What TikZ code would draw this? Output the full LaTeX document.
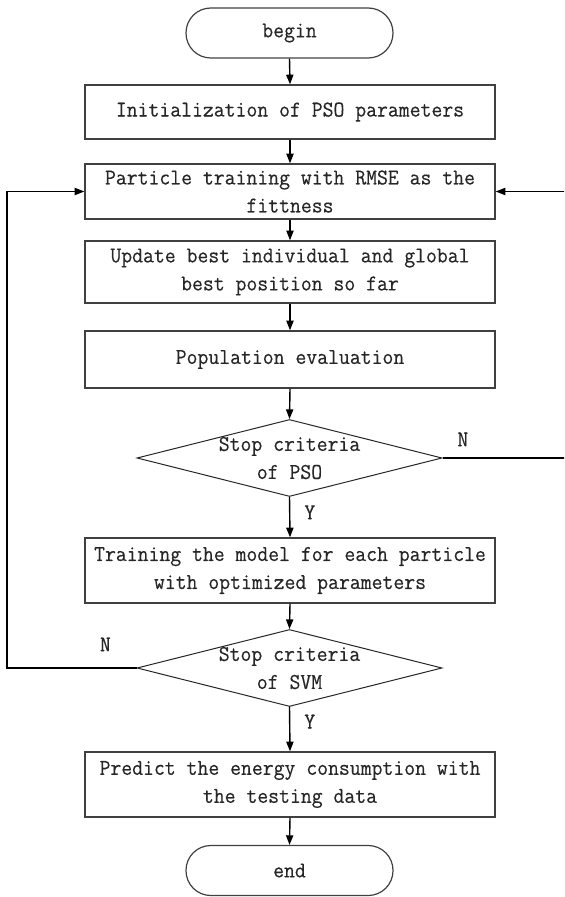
\documentclass[tikz,border=0pt]{standalone}
\usepackage{fontspec}
\usetikzlibrary{arrows.meta,shapes.geometric}
% slightly condensed, slightly heavier typewriter face for the step texts
\newfontfamily\flowfont{Latin Modern Mono}[FakeStretch=0.935,FakeBold=0.35]
\begin{document}
\begin{tikzpicture}[x=0.5pt,y=-0.5pt,
  every node/.style={font=\flowfont\fontsize{11.3}{14}\selectfont, text=black!85},
  procbox/.style={draw=black!75, line width=0.7pt, minimum width=205pt, align=center, inner sep=0pt},
  terminal/.style={draw=black!75, line width=0.6pt, rounded corners=12.4pt,
                   minimum width=103.5pt, minimum height=25pt, inner sep=0pt},
  decision/.style={draw=black!85, line width=0.5pt, shape=diamond,
                   minimum width=152.5pt, minimum height=38.5pt, inner sep=0pt},
  flow/.style={line width=0.7pt, -{Triangle[length=4.8pt,width=3.6pt]}},
  tag/.style={inner sep=0pt}
]
\useasboundingbox (0,0) rectangle (564,897);
\clip (0,0) rectangle (564,897);

% main column of steps
\node[terminal] (begin) at (289.5,33) {begin};
\node[procbox, minimum height=27pt] (init) at (290,112) {Initialization of PSO parameters};
\node[procbox, minimum height=27.5pt] (particle) at (290,191.5) {Particle training with RMSE as the\\fittness};
\node[procbox, minimum height=31pt] (update) at (290,272) {Update best individual and global\\best position so far};
\node[procbox, minimum height=28.5pt] (pop) at (290,359.5) {Population evaluation};
\node[decision, label={[align=center]center:{Stop criteria\\of PSO}}] (pso) at (289.5,458) {};
\node[procbox, minimum height=32.5pt] (train) at (290,570.5) {Training the model for each particle\\with optimized parameters};
\node[decision, label={[align=center]center:{Stop criteria\\of SVM}}] (svm) at (289.5,668) {};
\node[procbox, minimum height=32.5pt] (predict) at (290,784.5) {Predict the energy consumption with\\the testing data};
\node[terminal] (end) at (289.5,870.5) {end};

% side rails of the two loops
\coordinate (rloop) at (566,0);
\coordinate (lloop) at (7,0);

% straight flow
\draw[flow] (begin.south) -- (init.north);
\draw[flow] (init.south) -- (particle.north);
\draw[flow] (particle.south) -- (update.north);
\draw[flow] (update.south) -- (pop.north);
\draw[flow] (pop.south) -- (pso.north);
\draw[flow] (pso.south) -- node[tag, right, pos=0.38, xshift=7pt] (psoy) {Y} (train.north);
\draw[flow] (train.south) -- (svm.north);
\draw[flow] (svm.south) -- node[tag, right, pos=0.33, xshift=7pt] (svmy) {Y} (predict.north);
\draw[flow] (predict.south) -- (end.north);

% loops back to particle training
\draw[flow] (pso.east) -- node[tag, above, pos=0.165, yshift=5.5pt] (pson) {N} (pso.east -| rloop) |- (particle.east);
\draw[flow] (svm.west) -- node[tag, above, pos=0.24, yshift=8pt] (svmn) {N} (svm.west -| lloop) |- (particle.west);
\end{tikzpicture}
\end{document}
